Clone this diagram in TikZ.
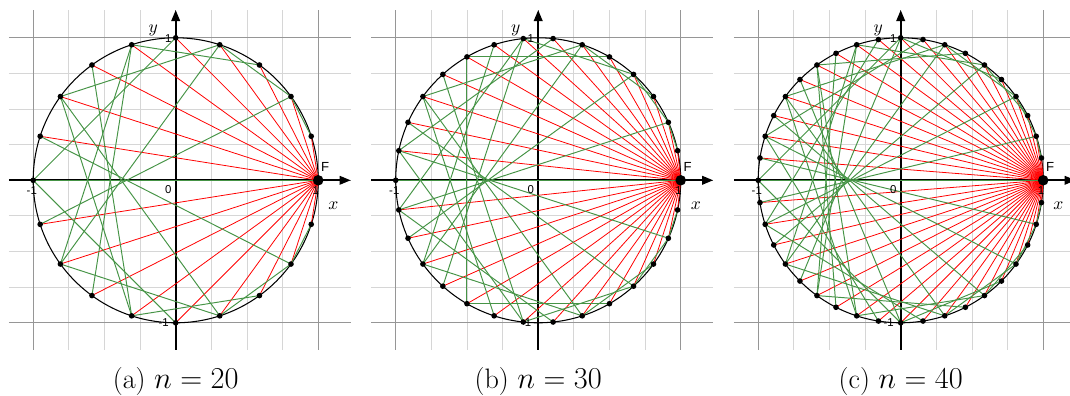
\documentclass[tikz,border=0pt]{standalone}
\usepackage{fontspec}
\usepackage{tikz}
\usetikzlibrary{arrows.meta}
\newfontfamily\ggsans{Liberation Sans}
\definecolor{raygreen}{RGB}{70,148,70}
\definecolor{rayred}{RGB}{255,0,0}
\definecolor{gridminor}{RGB}{214,214,214}
\definecolor{gridmajor}{RGB}{150,150,150}
\tikzset{
  minorgrid/.style={draw=gridminor, line width=0.5pt},
  majorgrid/.style={draw=gridmajor, line width=0.5pt},
  axis/.style={-{Triangle[length=2.2mm,width=1.7mm]}, line width=1.1pt},
  rim/.style={line width=0.6pt},
  incident/.style={draw=rayred, line width=0.45pt},
  reflected/.style={draw=raygreen, line width=0.55pt},
  dot/.style={circle, fill=black, inner sep=0pt, minimum size=3.2pt},
  focus/.style={circle, fill=black, inner sep=0pt, minimum size=6pt},
  ticklabel/.style={font=\ggsans\fontsize{6.5}{7.5}\selectfont, inner sep=0.5pt},
  flabel/.style={font=\ggsans\fontsize{7.5}{9}\selectfont, inner sep=0.5pt},
  axislabel/.style={font=\normalsize, inner sep=0pt},
  caption/.style={font=\fontsize{16}{19}\selectfont, inner sep=1pt},
}

\begin{document}
\begin{tikzpicture}
\useasboundingbox (-3.514,3.606) rectangle (17.886,-4.314);

% ================= (a) n=20, (b) n=30, (c) n=40 =================
\foreach \pn/\n/\sx in {a/20/0, b/30/7.25, c/40/14.5}{
\begin{scope}[shift={(\sx,0)}, x=2.85cm, y=2.85cm]
  \pgfmathtruncatemacro\last{\n-1}

  % grid and axes
  \draw[minorgrid, step=0.25] (-1.17,-1.19) grid (1.228,1.195);
  \draw[majorgrid, step=1] (-1.17,-1.19) grid (1.228,1.195);
  \coordinate (\pn-xl) at (-1.17,0);
  \coordinate (\pn-xr) at (1.228,0);
  \coordinate (\pn-yb) at (0,-1.19);
  \coordinate (\pn-yt) at (0,1.195);
  \draw[axis] (\pn-xl) -- (\pn-xr);
  \draw[axis] (\pn-yb) -- (\pn-yt);

  % mirror
  \coordinate (\pn-O) at (0,0);
  \draw[rim] (\pn-O) circle (1);

  % points on the circle, F is point 0
  \foreach \k in {0,...,\last}
    \coordinate (\pn-p\k) at (\k*360/\n:1);

  % rays from F
  \foreach \k in {1,...,\last}
    \draw[incident] (\pn-p0) -- (\pn-p\k);

  % reflected rays: point k goes to point 2k
  \foreach \k in {1,...,\last}{
    \pgfmathtruncatemacro\j{mod(2*\k,\n)}
    \draw[reflected] (\pn-p\k) -- (\pn-p\j);
  }

  \foreach \k in {1,...,\last}
    \node[dot] (\pn-d\k) at (\pn-p\k) {};
  \node[focus] (\pn-F) at (\pn-p0) {};

  % labels
  \node[flabel] (\pn-Flab) at (1.048,0.093) {F};
  \node[axislabel] (\pn-xlab) at (1.106,-0.175) {$x$};
  \node[axislabel] (\pn-ylab) at (-0.157,1.05) {$y$};
  \node[ticklabel] (\pn-one) at (-0.052,0.996) {1};
  \node[ticklabel] (\pn-mone) at (-0.085,-1.0) {-1};
  \node[ticklabel] (\pn-zero) at (-0.052,-0.068) {0};
  \node[ticklabel] (\pn-xmone) at (-1.01,-0.07) {-1};
  \node[ticklabel] (\pn-xone) at (0.984,-0.07) {1};

  \node[caption] (\pn-cap) at (0,-1.41) {(\pn) $n=\n$};
\end{scope}
}

\end{tikzpicture}
\end{document}
